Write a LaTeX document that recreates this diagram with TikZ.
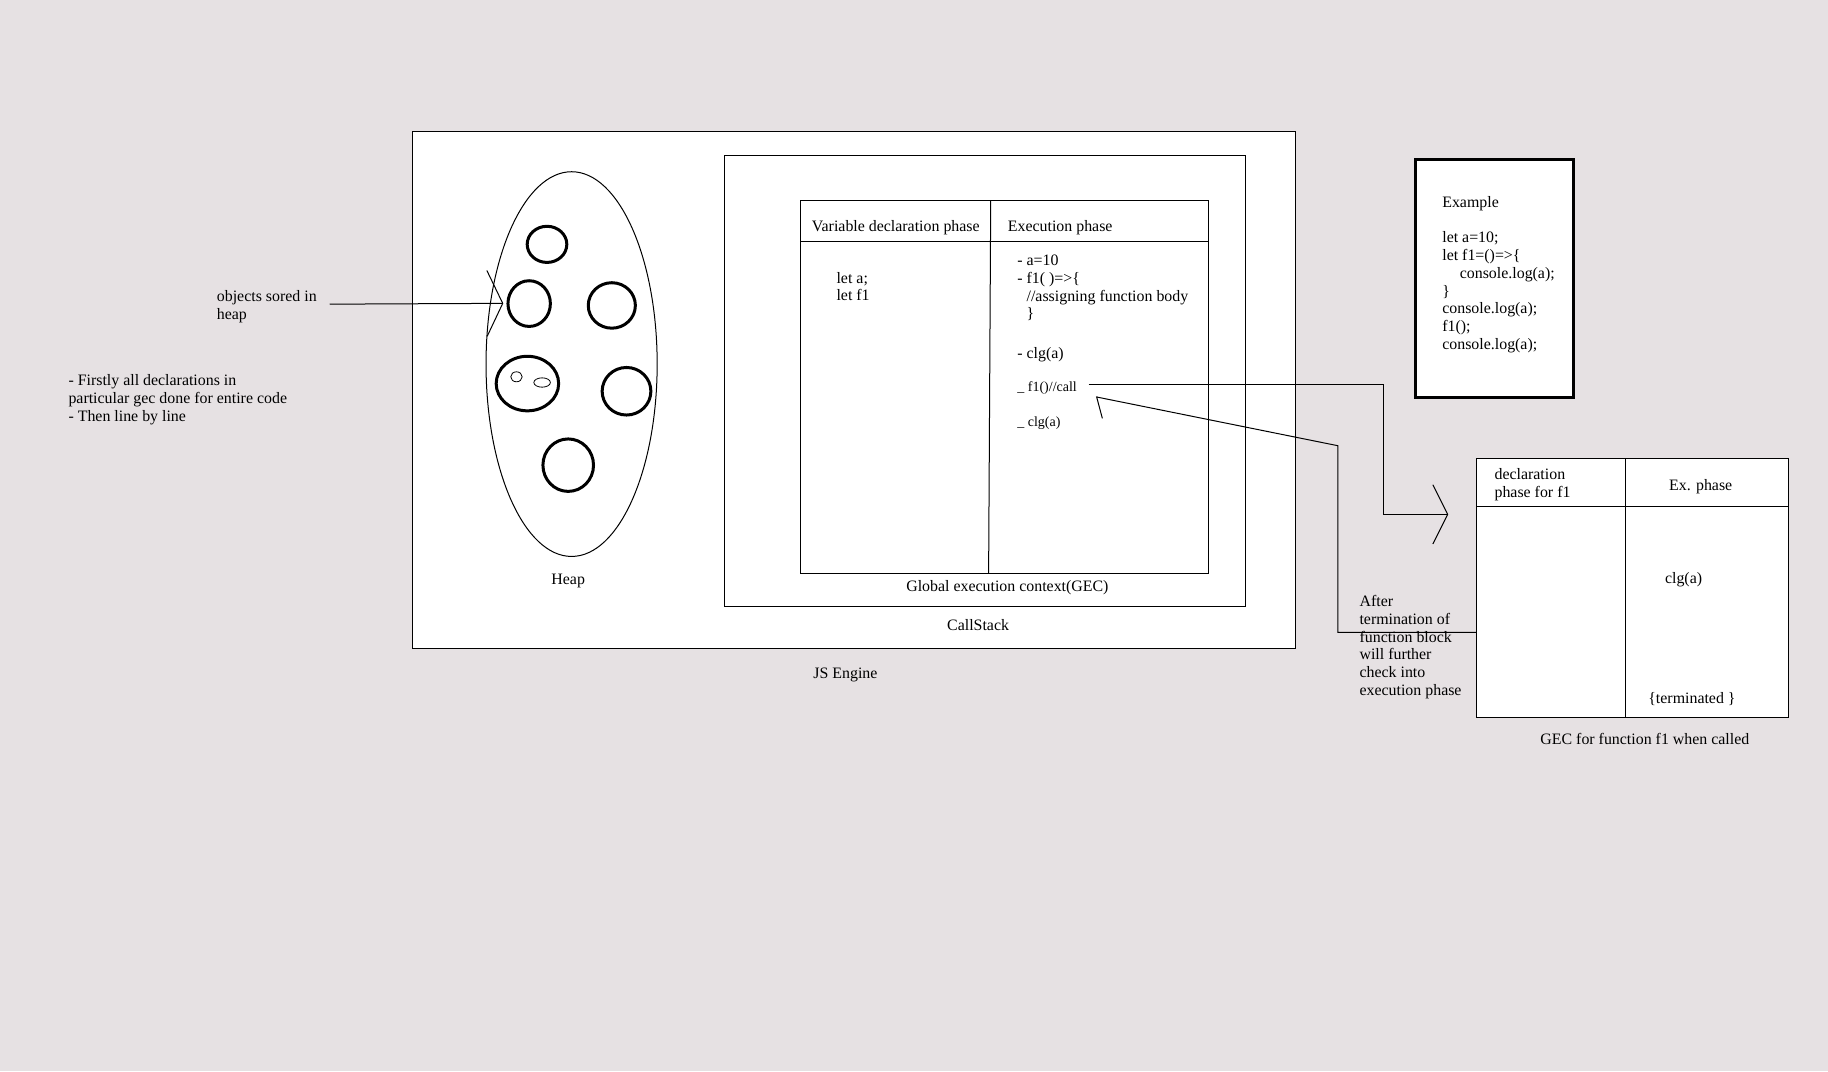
\documentclass[tikz,border=0pt]{standalone}
\usepackage{fontspec}
\setmainfont{Liberation Serif}
\usepackage{xcolor}
\usepackage{tikz}
\usetikzlibrary{calc,arrows.meta}
\definecolor{bg}{HTML}{E6E1E3}
\definecolor{paper}{HTML}{FFFFFF}
\definecolor{ink}{HTML}{000000}
\tikzset{
  frame/.style={draw=ink, fill=paper, line width=1pt},
  rule/.style={draw=ink, line width=1pt},
  obj/.style={draw=ink, line width=3pt},
  link/.style={draw=ink, line width=1pt, line join=miter},
  heapv/.style={-{Straight Barb[length=15.7pt,width=65.8pt]}},
  callv/.style={-{Straight Barb[length=14.8pt,width=59.2pt]}},
  backv/.style={-{Straight Barb[left,length=9.8pt,width=39.6pt]}},
  lab/.style={text=ink, inner sep=0pt, align=left, font=\fontsize{15.9}{17.7}\selectfont},
  labs/.style={lab, font=\fontsize{14}{16}\selectfont},
}
\begin{document}
\begin{tikzpicture}[x=1.1658pt, y=-1.1658pt]
  \fill[bg] (0,0) rectangle (1568,919);
  \useasboundingbox (0,0) rectangle (1568,919);
  % JS engine and heap
  \draw[frame] (354,113) rectangle (1111,556);
  \draw[rule] (490.3,312.3) ellipse [x radius=73.4, y radius=165];
  \draw[obj] (469.2,209.6) ellipse [x radius=17, y radius=15.5];
  \draw[obj] (453.9,260.4) ellipse [x radius=18.2, y radius=19.6];
  \draw[obj] (524.8,262) ellipse [x radius=20.2, y radius=19.5];
  \draw[obj] (452.4,329) ellipse [x radius=26.8, y radius=23.4];
  \draw[obj] (537.4,335.6) ellipse [x radius=20.9, y radius=20.4];
  \draw[obj] (487.4,399) ellipse [x radius=21.7, y radius=22.5];
  \draw[rule, line width=0.8pt] (443,323.2) ellipse [x radius=4.9, y radius=4.3];
  \draw[rule, line width=0.8pt] (465,328.1) ellipse [x radius=7.1, y radius=4];
  % call stack with the global context
  \draw[frame] (621.3,133) rectangle (1068.4,520.2);
  \draw[frame] (686.3,171.9) rectangle (1036.4,492);
  \draw[rule] (686.3,207.1) -- (1036.4,207.1);
  \draw[rule] (849.8,171.9) -- (848,492);
  % example code
  \draw[frame, line width=3pt] (1213.9,136.4) rectangle (1349.6,341.2);
  % context of f1
  \draw[frame] (1266.5,393.1) rectangle (1533.9,615.3);
  \draw[rule] (1266.5,434.8) -- (1533.9,434.8);
  \draw[rule] (1394.2,393.1) -- (1394.2,615.3);

  \node[lab, anchor=west] (objs) at (185.9,262.9) {objects sored in\\heap};
  \node[lab, anchor=west] (steps) at (58.6,343) {- Firstly all declarations in\\particular gec done for entire code\\- Then line by line};
  \node[lab] (heap) at (487.4,498) {Heap};
  \node[lab] (engine) at (725.2,579.2) {JS Engine};
  \node[lab] (stack) at (839,536.3) {CallStack};
  \node[lab] (gec) at (864.1,503.8) {Global execution context(GEC)};
  \node[lab] (vdp) at (768.4,195.3) {Variable declaration phase};
  \node[lab] (exp) at (909.4,195.3) {Execution phase};
  \node[lab, anchor=west] (decl) at (717.4,245.8) {let a;\\let f1};
  \node[lab, anchor=west] (exec) at (872.5,247.1) {- a=10\\- f1( )=>\{\\\hphantom{- }//assigning function body\\\hphantom{- }\}};
  \node[lab, anchor=west] (clg) at (872.5,304) {- clg(a)};
  \node[labs, anchor=west] (call) at (872.5,333) {\_ f1()//call};
  \node[labs, anchor=west] (clgb) at (872.5,363) {\_ clg(a)};
  \node[lab, anchor=west] (code) at (1237,235.5) {Example\\[17.7pt]let a=10;\\let f1=()=>\{\\\hspace*{17.5pt}console.log(a);\\\}\\console.log(a);\\f1();\\console.log(a);};
  \node[lab, anchor=west] (after) at (1166,555) {After\\termination of\\function block\\will further\\check into\\execution phase};
  \node[lab, anchor=west] (f1decl) at (1281.8,416) {declaration\\phase for f1};
  \node[lab] (f1ex) at (1458.8,417.2) {Ex. phase};
  \node[lab] (f1clg) at (1444.1,497.4) {clg(a)};
  \node[lab] (f1end) at (1451.3,599.6) {\{terminated \}};
  \node[lab] (f1gec) at (1410.9,634.2) {GEC for function f1 when called};

  \coordinate (heapin) at (431.7,260.2);
  \draw[link, heapv] ($(objs.east)+(11,-2)$) -- (heapin);
  \coordinate (turn) at (1186.7,441.2);
  \coordinate (f1in) at (1242.2,441.2);
  \draw[link, callv] ($(call.east)+(10,-3)$) -| (turn) -- (f1in);
  \coordinate (f1out) at (1266.5,542.4);
  \coordinate (rise) at (1147.5,382.3);
  \coordinate (callin) at (940,340.4);
  \draw[link, backv] (f1out) -| (rise) -- (callin);
\end{tikzpicture}
\end{document}
